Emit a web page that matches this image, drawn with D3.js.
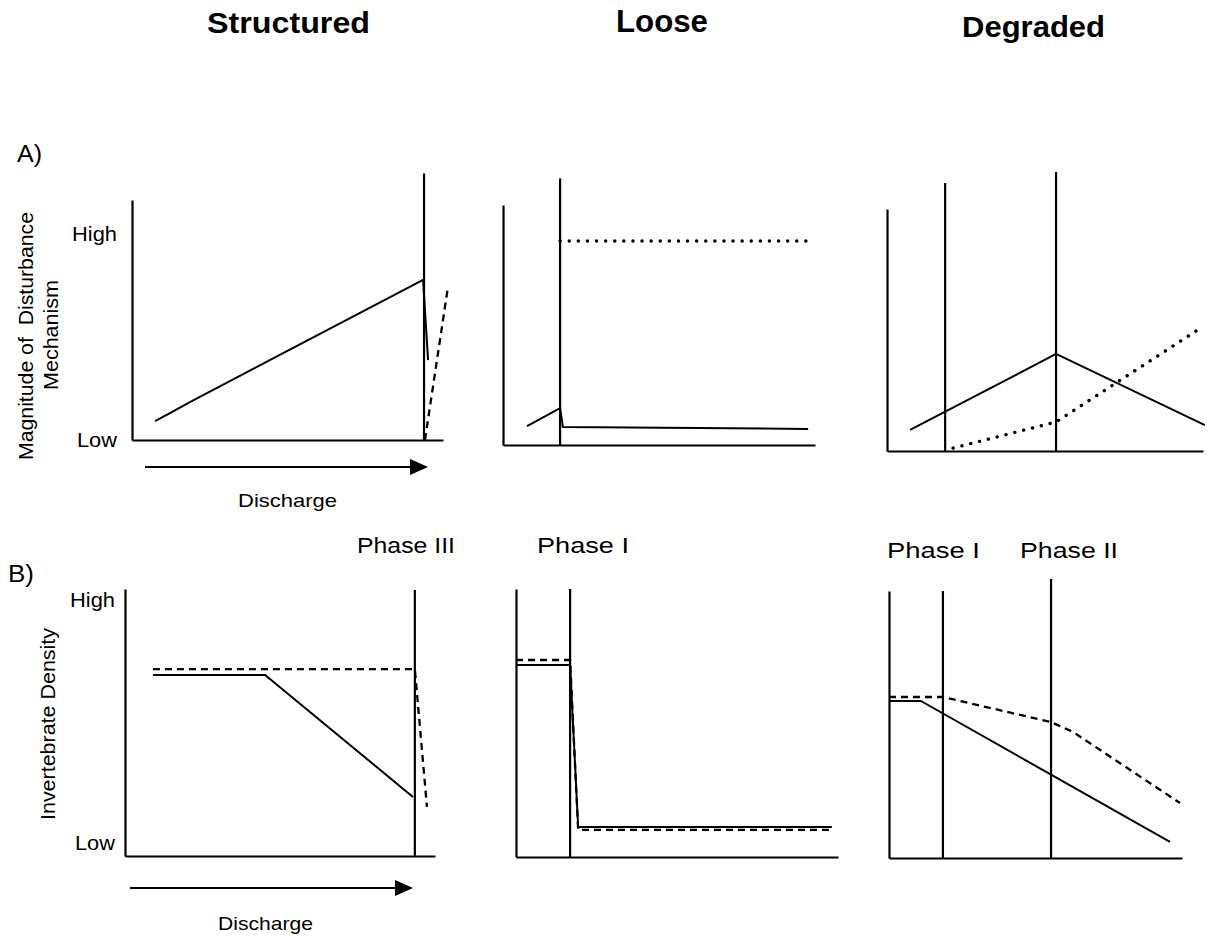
<!DOCTYPE html>
<html>
<head>
<meta charset="utf-8">
<script src="https://cdn.jsdelivr.net/npm/d3@7/dist/d3.min.js"></script>
<style>
  html, body { margin: 0; padding: 0; background: #fff; }
  svg { display: block; font-family: "Liberation Sans", Arial, sans-serif; }
</style>
</head>
<body>
<svg id="chart" width="1213" height="936"></svg>
<script>
// ---------------- DATA (values on a 0–100 relative scale) ----------------
const panelTitles = ["Structured", "Loose", "Degraded"];
const rowLabels = ["A)", "B)"];
const yTickLabelsA = ["Low", "High"];
const yTickValuesA = [0, 86];
const yTickLabelsB = ["Low", "High"];
const yTickValuesB = [5, 96];
const xAxisLabel = "Discharge";
const yTitleA = ["Magnitude of\u00A0 Disturbance", "Mechanism"];
const yTitleB = "Invertebrate Density";
const phaseLabelsStructured = ["Phase III"];
const phaseLabelsLoose = ["Phase I"];
const phaseLabelsDegraded = ["Phase I", "Phase II"];

// Row A – magnitude of disturbance mechanism
const aStructuredPhaseX = [93.9];
const aStructuredPhaseTop = [111];
const aStructuredSolid = [[7.4, 7.9], [12.2, 11.2], [18.6, 15.8], [93.6, 66.7], [95.2, 33.3]];
const aStructuredDashed = [[94.2, 0], [101.6, 63.8]];

const aLoosePhaseX = [18.3];
const aLoosePhaseTop = [111];
const aLooseSolid = [[7.7, 7.9], [18.3, 15.4], [19.2, 7.5], [97.8, 6.7]];
const aLooseDotted = [[18.3, 85], [98.4, 85]];

const aDegradedPhaseX = [18.4, 53.5];
const aDegradedPhaseTop = [110.7, 115.3];
const aDegradedSolid = [[7.3, 8.7], [53.5, 40.1], [100.6, 10.7]];
const aDegradedDotted = [[20.9, 1.2], [53.5, 12], [99.7, 51.2]];

// Row B – invertebrate density
const bStructuredPhaseX = [93.5];
const bStructuredPhaseTop = [99.6];
const bStructuredSolid = [[9, 67.8], [45.2, 67.8], [92.9, 22.1]];
const bStructuredDashed = [[9, 70], [93.5, 70], [97.4, 18.4]];

const bLoosePhaseX = [16.8];
const bLoosePhaseTop = [100];
const bLooseSolid = [[0, 71.6], [16.8, 71.6], [19.3, 11.2], [98.1, 11.2]];
const bLooseDashed = [[0, 73.5], [16.8, 73.5], [19.3, 10.1], [98.1, 10.1]];

const bDegradedPhaseX = [18.4, 55.3];
const bDegradedPhaseTop = [100, 104.5];
const bDegradedSolid = [[0, 58.8], [10.9, 58.8], [95.9, 6]];
const bDegradedDashed = [[0, 60.3], [18.4, 60.3], [55.3, 50.9], [62.8, 47.2], [99.3, 20.6]];

// ---------------- LAYOUT ----------------
const svg = d3.select("#chart");
const black = "#000";

const panels = [
  { box: [132, 443, 440, 200], phaseX: aStructuredPhaseX, phaseTop: aStructuredPhaseTop,
    series: [{ d: aStructuredSolid, s: "solid" }, { d: aStructuredDashed, s: "dashed" }],
    ticks: { v: yTickValuesA, l: yTickLabelsA, pad: 15 } },
  { box: [503, 815, 445, 205], phaseX: aLoosePhaseX, phaseTop: aLoosePhaseTop,
    series: [{ d: aLooseSolid, s: "solid" }, { d: aLooseDotted, s: "dotted" }] },
  { box: [887, 1203, 451, 209], phaseX: aDegradedPhaseX, phaseTop: aDegradedPhaseTop,
    series: [{ d: aDegradedSolid, s: "solid" }, { d: aDegradedDotted, s: "dotted" }] },
  { box: [125, 435, 856, 589], phaseX: bStructuredPhaseX, phaseTop: bStructuredPhaseTop,
    series: [{ d: bStructuredSolid, s: "solid" }, { d: bStructuredDashed, s: "dashed" }],
    ticks: { v: yTickValuesB, l: yTickLabelsB, pad: 10 } },
  { box: [516, 838, 857, 589], phaseX: bLoosePhaseX, phaseTop: bLoosePhaseTop,
    series: [{ d: bLooseSolid, s: "solid" }, { d: bLooseDashed, s: "dashed" }] },
  { box: [889, 1182, 858, 591], phaseX: bDegradedPhaseX, phaseTop: bDegradedPhaseTop,
    series: [{ d: bDegradedSolid, s: "solid" }, { d: bDegradedDashed, s: "dashed" }] }
];

const styles = {
  solid: { w: 2, dash: null, cap: "butt" },
  dashed: { w: 2.3, dash: "7 5", cap: "butt" },
  dotted: { w: 3.4, dash: "0.1 9", cap: "round" }
};

panels.forEach(p => {
  const [x0, x1, y0, y1] = p.box;
  const x = d3.scaleLinear().domain([0, 100]).range([x0, x1]);
  const y = d3.scaleLinear().domain([0, 100]).range([y0, y1]);
  const g = svg.append("g");

  // axes (domain lines only)
  const ya = d3.axisLeft(y).tickSizeOuter(0).tickSize(0);
  if (p.ticks) {
    ya.tickValues(p.ticks.v).tickFormat((d, i) => p.ticks.l[i]).tickPadding(p.ticks.pad);
  } else {
    ya.tickValues([]);
  }
  const yg = g.append("g").attr("transform", `translate(${x0},0)`).call(ya);
  yg.select(".domain").attr("stroke", black).attr("stroke-width", 2.2);
  yg.selectAll("text").attr("font-size", 20).attr("fill", black)
    .attr("font-family", "'Liberation Sans', Arial, sans-serif")
    .attr("textLength", (d, i) => i === 0 ? 40 : 45).attr("lengthAdjust", "spacingAndGlyphs");

  const xa = d3.axisBottom(x).tickValues([]).tickSizeOuter(0);
  const xg = g.append("g").attr("transform", `translate(0,${y0})`).call(xa);
  xg.select(".domain").attr("stroke", black).attr("stroke-width", 2.2);

  // phase boundary lines
  g.selectAll("line.phase").data(p.phaseX).join("line")
    .attr("class", "phase")
    .attr("x1", d => x(d)).attr("x2", d => x(d))
    .attr("y1", y(0)).attr("y2", (d, i) => y(p.phaseTop[i]))
    .attr("stroke", black).attr("stroke-width", 2.2);

  // series
  const line = d3.line().x(d => x(d[0])).y(d => y(d[1]));
  p.series.forEach(s => {
    const st = styles[s.s];
    g.append("path").attr("d", line(s.d))
      .attr("fill", "none").attr("stroke", black)
      .attr("stroke-width", st.w)
      .attr("stroke-linecap", st.cap)
      .attr("stroke-linejoin", "round")
      .attr("stroke-dasharray", st.dash);
  });
});

// ---------------- TEXT ----------------
function txt(str, xx, yy, size, opts = {}) {
  const t = svg.append("text").text(str)
    .attr("x", xx).attr("y", yy)
    .attr("font-size", size)
    .attr("fill", black)
    .attr("text-anchor", opts.anchor || "start")
    .attr("font-weight", opts.bold ? "bold" : "normal");
  if (opts.len) t.attr("textLength", opts.len).attr("lengthAdjust", "spacingAndGlyphs");
  if (opts.rotate) t.attr("transform", `rotate(-90,${xx},${yy})`);
  return t;
}

// column titles
txt(panelTitles[0], 207, 33, 30, { bold: true, len: 163 });
txt(panelTitles[1], 616, 32, 31, { bold: true, len: 92 });
txt(panelTitles[2], 962, 37, 30, { bold: true, len: 143 });

// row labels
txt(rowLabels[0], 17, 162, 23, { len: 25 });
txt(rowLabels[1], 8, 582, 23, { len: 26 });

// axis titles (rotated)
txt(yTitleA[0], 33, 336, 21, { anchor: "middle", rotate: true, len: 248 });
txt(yTitleA[1], 58, 335, 21, { anchor: "middle", rotate: true, len: 110 });
txt(yTitleB, 55, 724, 20, { anchor: "middle", rotate: true, len: 192 });

// discharge arrows + labels
const arrows = [
  { from: 145, to: 428, y: 467, label: [238, 507, 99] },
  { from: 130, to: 413, y: 888, label: [218, 930, 95] }
];
arrows.forEach(a => {
  const head = 18, half = 8;
  svg.append("line").attr("x1", a.from).attr("x2", a.to - head + 1)
    .attr("y1", a.y).attr("y2", a.y).attr("stroke", black).attr("stroke-width", 2.2);
  svg.append("path")
    .attr("d", `M${a.to},${a.y} L${a.to - head},${a.y - half} L${a.to - head},${a.y + half} Z`)
    .attr("fill", black);
  txt(xAxisLabel, a.label[0], a.label[1], 19, { len: a.label[2] });
});

// phase labels
txt(phaseLabelsStructured[0], 357, 553, 22, { len: 98 });
txt(phaseLabelsLoose[0], 537, 553, 22, { len: 92 });
txt(phaseLabelsDegraded[0], 887, 558, 22, { len: 93 });
txt(phaseLabelsDegraded[1], 1020, 558, 22, { len: 98 });
</script>
</body>
</html>
